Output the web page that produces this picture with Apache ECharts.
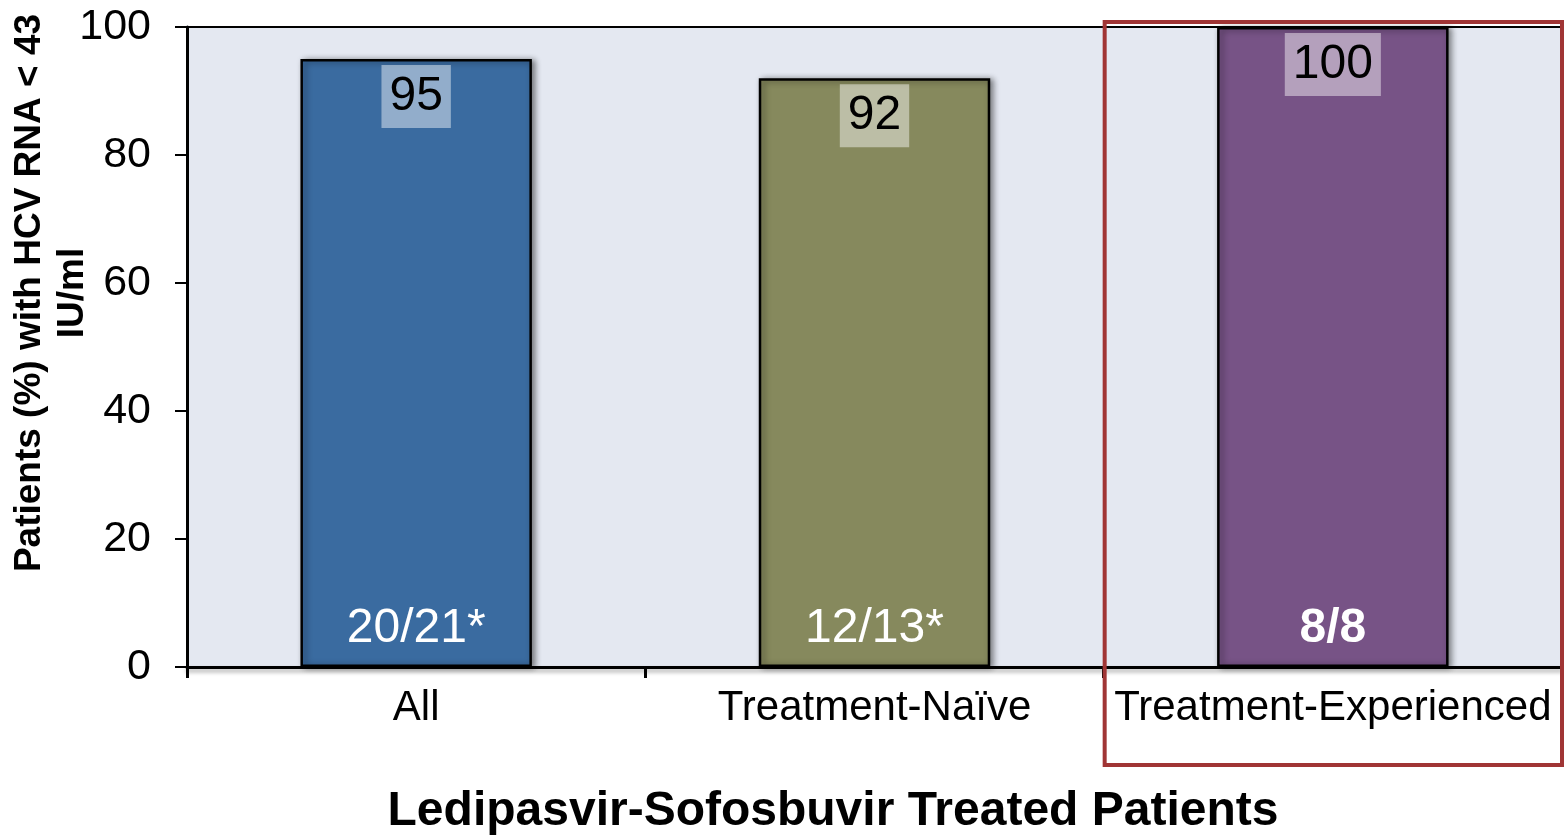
<!DOCTYPE html>
<html><head><meta charset="utf-8">
<script src="https://cdn.jsdelivr.net/npm/echarts@6/dist/echarts.min.js"></script>
<style>html,body{margin:0;padding:0;background:#fff}#c{width:1564px;height:836px}</style>
</head><body><div id="c"></div>
<script>
const categories = ['All', 'Treatment-Naïve', 'Treatment-Experienced'];
const values = [95, 92, 100];
const fractions = ['20/21*', '12/13*', '8/8'];
const fractionBold = [false, false, true];
const barColors = ['#3A6BA0', '#86895D', '#775386'];
const yTicks = [0, 20, 40, 60, 80, 100];
const yAxisTitle = 'Patients (%) with HCV RNA < 43\nIU/ml';
const xAxisTitle = 'Ledipasvir-Sofosbuvir Treated Patients';
const highlightIndex = 2;

const chart = echarts.init(document.getElementById('c'), null, {renderer: 'canvas'});
const FONT = 'Liberation Sans, Arial, sans-serif';

const option = {
  animation: false,
  grid: {left: 187, right: 2, top: 27, bottom: 169, show: true, backgroundColor: '#E4E8F1', borderColor: '#000', borderWidth: 2},
  xAxis: {
    type: 'category', data: categories,
    axisLine: {lineStyle: {color: '#000', width: 3, shadowColor: 'rgba(0,0,0,0.35)', shadowBlur: 4, shadowOffsetY: 3}},
    axisTick: {show: true, interval: 0, alignWithLabel: false, length: 11, lineStyle: {color: '#000', width: 3}},
    axisLabel: {interval: 0, color: '#000', fontSize: 42, fontFamily: FONT, margin: 20},
    splitLine: {show: false}
  },
  yAxis: {
    type: 'value', min: yTicks[0], max: yTicks[yTicks.length - 1], interval: 20,
    axisLine: {show: true, lineStyle: {color: '#000', width: 3}},
    axisTick: {show: true, length: 12, lineStyle: {color: '#000', width: 2}},
    axisLabel: {color: '#000', fontSize: 43, fontFamily: FONT, margin: 36},
    splitLine: {show: false}
  },
  series: [
    {
      type: 'bar', barWidth: '50.5%', z: 2,
      data: values.map((v, i) => ({value: v, itemStyle: {color: barColors[i]}})),
      itemStyle: {borderColor: '#000', borderWidth: 2.5, shadowColor: 'rgba(0,0,0,0.45)', shadowBlur: 6, shadowOffsetX: 3, shadowOffsetY: 1},
      label: {
        show: true, position: 'insideTop', distance: 6,
        fontSize: 48, fontFamily: FONT, color: '#000', lineHeight: 53,
        backgroundColor: 'rgba(255,255,255,0.45)', padding: [5, 8, 5, 8]
      }
    },
    {
      type: 'bar', barWidth: '50.5%', barGap: '-100%', z: 3, silent: true,
      data: values.map((v, i) => ({value: v})),
      itemStyle: {color: 'rgba(0,0,0,0)'},
      label: {
        show: true, position: 'insideBottom', distance: 14,
        formatter: p => fractionBold[p.dataIndex] ? '{b|' + fractions[p.dataIndex] + '}' : '{n|' + fractions[p.dataIndex] + '}',
        rich: {
          n: {fontSize: 48, fontFamily: FONT, color: '#fff'},
          b: {fontSize: 48, fontFamily: FONT, color: '#fff', fontWeight: 'bold'}
        }
      }
    }
  ],
  graphic: [
    {type: 'text', rotation: Math.PI / 2, x: 51, y: 293,
     style: {text: yAxisTitle, font: 'bold 37px ' + FONT, fill: '#000', align: 'center', verticalAlign: 'middle', lineHeight: 43}},
    {type: 'text', x: 833, y: 812,
     style: {text: xAxisTitle, font: 'bold 48px ' + FONT, fill: '#000', align: 'center', verticalAlign: 'middle'}}
  ]
};
chart.setOption(option);

// highlight box around the chosen category, derived from axis scale
const c0 = chart.convertToPixel({xAxisIndex: 0}, categories[highlightIndex]);
const c1 = chart.convertToPixel({xAxisIndex: 0}, categories[highlightIndex - 1]);
const half = (c0 - c1) / 2;
chart.setOption({graphic: option.graphic.concat([
  {type: 'rect', z: 10, shape: {x: c0 - half + 1, y: 22, width: 2 * half - 1, height: 743},
   style: {fill: 'none', stroke: '#A03535', lineWidth: 4}}
])});
</script></body></html>
